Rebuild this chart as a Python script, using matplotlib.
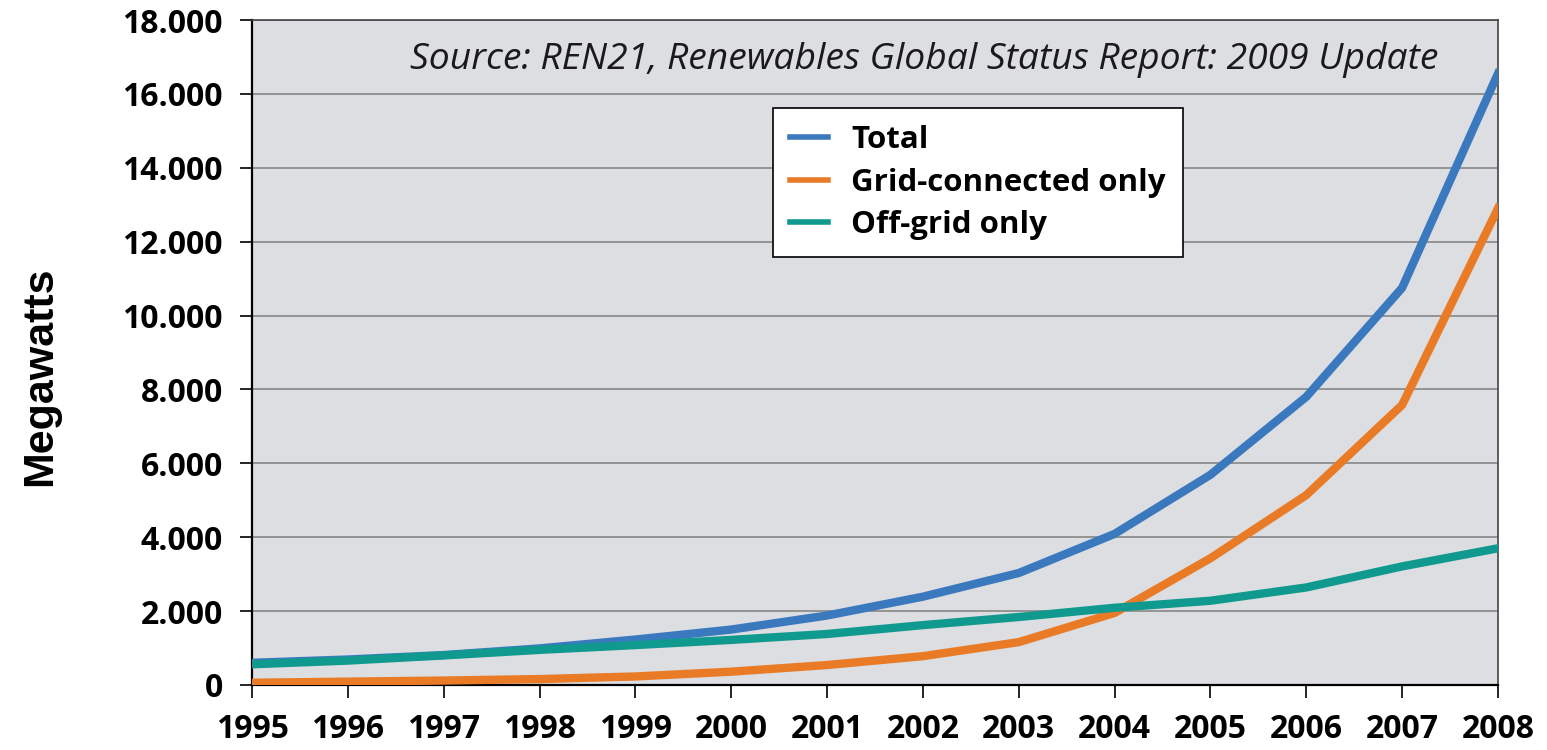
import matplotlib
matplotlib.use("Agg")
import matplotlib.pyplot as plt

# values (megawatts)
years = [1995, 1996, 1997, 1998, 1999, 2000, 2001, 2002, 2003, 2004, 2005, 2006, 2007, 2008]
total = [600, 690, 810, 990, 1230, 1500, 1880, 2390, 3030, 4090, 5690, 7800, 10750, 16550]
grid_connected = [60, 90, 120, 160, 230, 360, 540, 780, 1160, 1950, 3430, 5140, 7580, 12900]
off_grid = [560, 660, 800, 950, 1080, 1220, 1380, 1620, 1840, 2090, 2280, 2640, 3210, 3700]
y_ticks = [0, 2000, 4000, 6000, 8000, 10000, 12000, 14000, 16000, 18000]
y_labels = ["0", "2.000", "4.000", "6.000", "8.000", "10.000", "12.000", "14.000", "16.000", "18.000"]

series_names = ["Total", "Grid-connected only", "Off-grid only"]
colors = ["#3b79bf", "#e97b27", "#10998f"]

wide_font = ["Open Sans", "DejaVu Sans"]
narrow_font = ["Liberation Sans Narrow", "Liberation Sans", "DejaVu Sans"]

fig = plt.figure(figsize=(15.47, 7.5), dpi=100)
ax = fig.add_axes([0.1629, 0.0867, 0.8054, 0.8866])
ax.set_facecolor("#dcdee1")

for values, name, color in zip([total, grid_connected, off_grid], series_names, colors):
    ax.plot(years, values, color=color, lw=6, label=name, solid_joinstyle="miter", zorder=3)

ax.set_xlim(years[0], years[-1])
ax.set_ylim(0, 18000)
ax.set_xticks(years, labels=[str(y) for y in years],
              family=wide_font, fontweight="bold", fontsize=23)
ax.set_yticks(y_ticks, labels=y_labels, family=wide_font, fontweight="bold", fontsize=23)
ax.grid(axis="y", color="#8e8e8e", lw=1.3, zorder=1)

ax.tick_params(axis="y", length=9, width=1.2, pad=12, direction="out")
ax.tick_params(axis="x", length=9, width=1.2, pad=11, direction="out")

for side in ["left", "bottom"]:
    ax.spines[side].set_color("black")
    ax.spines[side].set_linewidth(1.6)
for side in ["top", "right"]:
    ax.spines[side].set_color("#444444")
    ax.spines[side].set_linewidth(1.2)

fig.text(0.026, 0.499, "Megawatts", rotation=90, va="center", ha="center",
         fontsize=31, fontweight="bold", family=narrow_font)

ax.text(0.127, 0.94, "Source: REN21, Renewables Global Status Report: 2009 Update",
        transform=ax.transAxes, fontsize=26.8, style="italic", family=wide_font,
        color="#1a1a1a", va="center", ha="left")

leg = ax.legend(loc="upper left", bbox_to_anchor=(773 / 1547, 1 - 108 / 750),
                bbox_transform=fig.transFigure, frameon=True, fancybox=False,
                handlelength=1.2, handletextpad=0.75, borderpad=0.55, labelspacing=0.4,
                borderaxespad=0, prop={"family": wide_font, "weight": "bold", "size": 22.5})
leg.get_frame().set_edgecolor("black")
leg.get_frame().set_linewidth(1.2)
leg.get_frame().set_facecolor("white")
leg.get_frame().set_alpha(1)
for line in leg.get_lines():
    line.set_linewidth(4)
leg.set_zorder(5)

fig.savefig("out.png", dpi=100)
plt.close(fig)
